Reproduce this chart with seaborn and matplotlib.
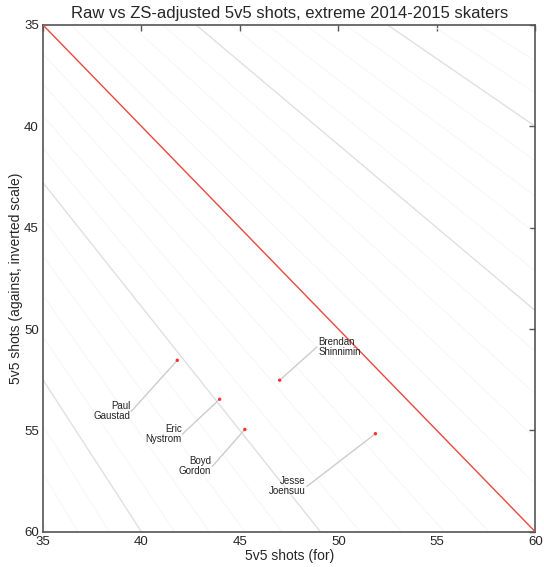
import matplotlib
matplotlib.use('Agg')
import matplotlib.pyplot as plt
import seaborn as sns
import pandas as pd
import numpy as np

# Players: adjusted (dot) and raw (label) shot rates
players = ["Paul\nGaustad", "Eric\nNystrom", "Boyd\nGordon", "Brendan\nShinnimin", "Jesse\nJoensuu"]
adj_for = [41.82, 43.97, 45.25, 47.02, 51.88]
adj_against = [51.54, 53.46, 54.95, 52.52, 55.16]
raw_for = [39.48, 42.09, 43.60, 48.90, 48.40]
raw_against = [54.06, 55.17, 56.77, 50.89, 57.76]
label_align = ["right", "right", "right", "left", "right"]

# shot share guide lines (percent)
cf_levels = list(range(37, 64))
major_levels = [40, 45, 55, 60]

sns.set_style("white")
plt.rcParams['font.family'] = ['Liberation Sans', 'DejaVu Sans']

fig = plt.figure(figsize=(5.44, 5.67), dpi=100)
ax = fig.add_axes([0.079, 0.062, 0.905, 0.894])

xs = np.array([35.0, 60.0])
for p in cf_levels:
    ratio = (100 - p) / p
    if p == 50:
        color, lw, z = '#e8483f', 1.0, 3
    elif p in major_levels:
        color, lw, z = '#e0e0e0', 1.0, 1
    else:
        color, lw, z = '#f6f6f6', 0.7, 1
    ax.plot(xs, xs * ratio, color=color, lw=lw, zorder=z)

df = pd.DataFrame({"player": players, "adj_for": adj_for, "adj_against": adj_against,
                   "raw_for": raw_for, "raw_against": raw_against, "ha": label_align})

for _, r in df.iterrows():
    ax.plot([r.raw_for, r.adj_for], [r.raw_against, r.adj_against], color='#cccccc', lw=1, zorder=2)
    ax.text(r.raw_for + (0.1 if r.ha == 'left' else -0.05), r.raw_against, r.player,
            ha=r.ha, va='center', fontsize=7, color='#222222', linespacing=1.0, zorder=4)

sns.scatterplot(data=df, x="adj_for", y="adj_against", color='#ff3030', s=6,
                edgecolor='none', ax=ax, zorder=5)

ax.set_xlim(35, 60)
ax.set_ylim(60, 35)
ax.set_xticks([35, 40, 45, 50, 55, 60])
ax.set_yticks([35, 40, 45, 50, 55, 60])
ax.tick_params(direction='in', top=True, right=True, length=4, width=1, color='#555555',
               labelsize=9.5, pad=3)
for s in ax.spines.values():
    s.set_color('#555555')
    s.set_linewidth(1.2)

ax.set_xlabel("5v5 shots (for)", fontsize=10, labelpad=1)
ax.set_ylabel("5v5 shots (against, inverted scale)", fontsize=10, labelpad=1)
ax.set_title("Raw vs ZS-adjusted 5v5 shots, extreme 2014-2015 skaters", fontsize=12, pad=5)

plt.savefig("out.png", dpi=100)
plt.close()
